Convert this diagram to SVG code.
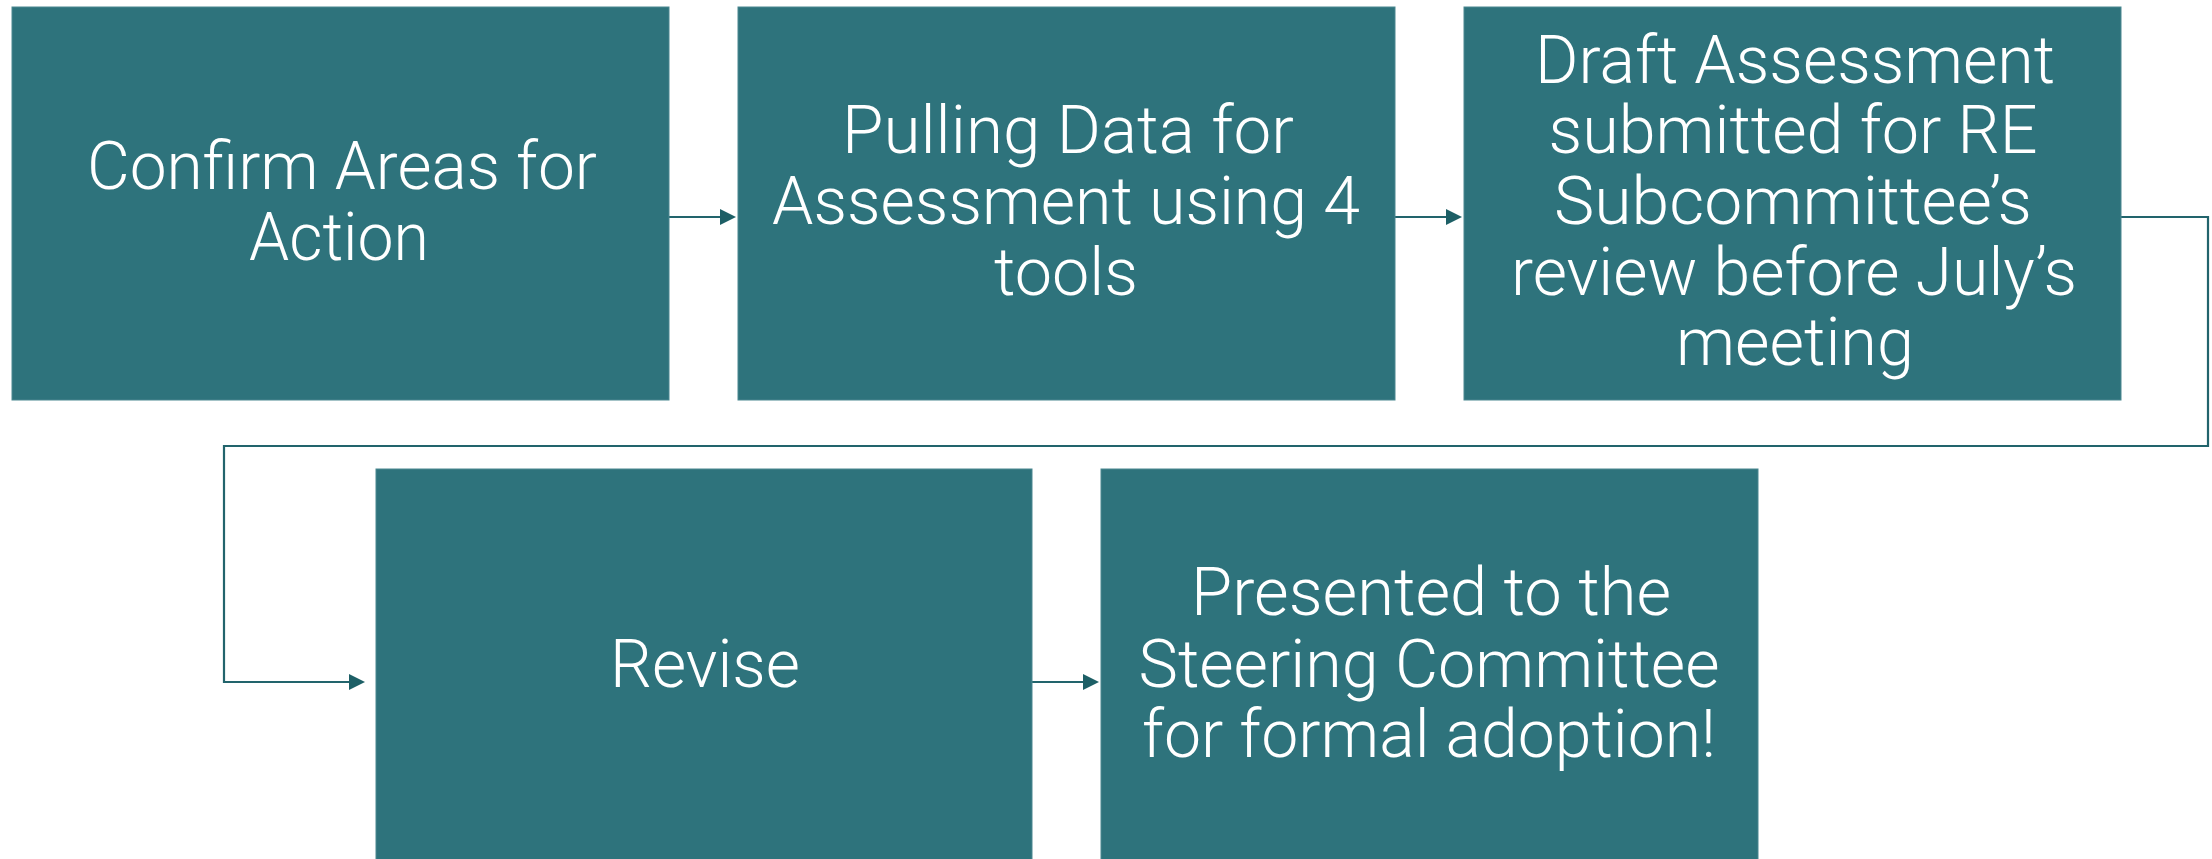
<svg xmlns="http://www.w3.org/2000/svg" width="2212" height="859" viewBox="0 0 2212 859">
  <defs>
    <style>
      .box { fill: #2E737C; stroke: #4A8790; stroke-width: 1; }
      .lbl { fill: #FFFFFF; font-family: Roboto, "Liberation Sans", Arial, sans-serif; font-weight: 300; font-size: 66px; text-anchor: middle; }
      .conn { fill: none; stroke: #22646C; stroke-width: 2.2; }
    </style>
    <marker id="arrow" markerUnits="userSpaceOnUse" markerWidth="18" markerHeight="18" refX="14" refY="8" orient="auto">
      <path d="M0,0 L16,8 L0,16 z" fill="#1D5F66"/>
    </marker>
  </defs>
  <rect width="2212" height="859" fill="#FFFFFF"/>

  <g id="connectors">
    <path class="conn" d="M669,217 H734" marker-end="url(#arrow)"/>
    <path class="conn" d="M1395,217 H1460" marker-end="url(#arrow)"/>
    <path class="conn" d="M2121,217 H2208 V446 H224 V682 H363" marker-end="url(#arrow)"/>
    <path class="conn" d="M1032,682 H1097" marker-end="url(#arrow)"/>
  </g>

  <g id="node-confirm">
    <rect class="box" x="12" y="7" width="657" height="393"/>
    <text class="lbl"><tspan x="342" y="189" textLength="510" lengthAdjust="spacingAndGlyphs">Confirm Areas for</tspan><tspan x="339" y="260" textLength="180" lengthAdjust="spacingAndGlyphs">Action</tspan></text>
  </g>

  <g id="node-pulling">
    <rect class="box" x="738" y="7" width="657" height="393"/>
    <text class="lbl"><tspan x="1068" y="153" textLength="452" lengthAdjust="spacingAndGlyphs">Pulling Data for</tspan><tspan x="1066" y="224" textLength="588" lengthAdjust="spacingAndGlyphs">Assessment using 4</tspan><tspan x="1066" y="295" textLength="144" lengthAdjust="spacingAndGlyphs">tools</tspan></text>
  </g>

  <g id="node-draft">
    <rect class="box" x="1464" y="7" width="657" height="393"/>
    <text class="lbl"><tspan x="1795" y="83" textLength="520" lengthAdjust="spacingAndGlyphs">Draft Assessment</tspan><tspan x="1793" y="153" textLength="489" lengthAdjust="spacingAndGlyphs">submitted for RE</tspan><tspan x="1793" y="224" textLength="478" lengthAdjust="spacingAndGlyphs">Subcommittee’s</tspan><tspan x="1794" y="295" textLength="566" lengthAdjust="spacingAndGlyphs">review before July’s</tspan><tspan x="1795" y="365" textLength="238" lengthAdjust="spacingAndGlyphs">meeting</tspan></text>
  </g>

  <g id="node-revise">
    <rect class="box" x="376" y="469" width="656" height="400"/>
    <text class="lbl"><tspan x="705" y="687" textLength="190" lengthAdjust="spacingAndGlyphs">Revise</tspan></text>
  </g>

  <g id="node-presented">
    <rect class="box" x="1101" y="469" width="657" height="400"/>
    <text class="lbl"><tspan x="1431" y="615" textLength="480" lengthAdjust="spacingAndGlyphs">Presented to the</tspan><tspan x="1429" y="687" textLength="581" lengthAdjust="spacingAndGlyphs">Steering Committee</tspan><tspan x="1429" y="757" textLength="574" lengthAdjust="spacingAndGlyphs">for formal adoption!</tspan></text>
  </g>
</svg>
